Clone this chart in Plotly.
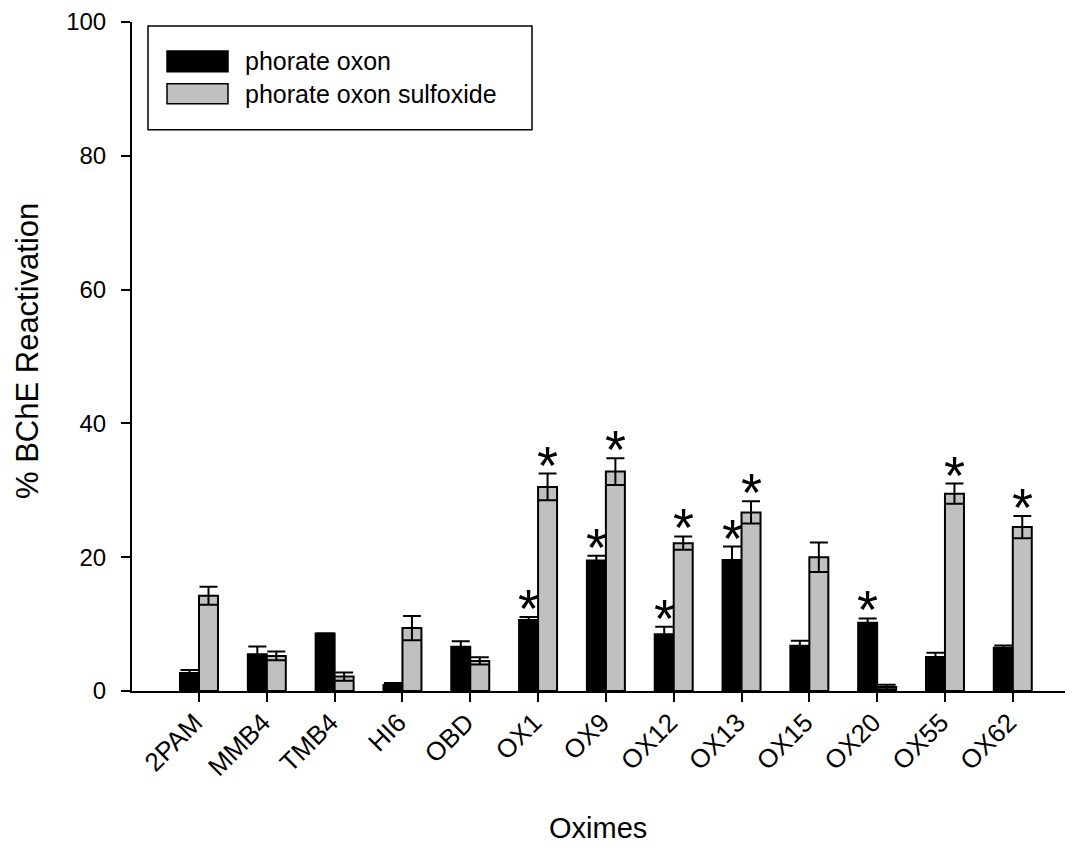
import plotly.graph_objects as go

categories = ["2PAM", "MMB4", "TMB4", "HI6", "OBD", "OX1", "OX9",
              "OX12", "OX13", "OX15", "OX20", "OX55", "OX62"]
oxon = [2.7, 5.5, 8.6, 0.9, 6.6, 10.6, 19.5, 8.5, 19.6, 6.75, 10.2, 5.1, 6.45]
oxon_err = [0.45, 1.15, 0.0, 0.3, 0.85, 0.45, 0.7, 1.1, 2.0, 0.75, 0.65, 0.6, 0.35]
sulfoxide = [14.25, 5.25, 2.15, 9.4, 4.5, 30.5, 32.8, 22.1, 26.7, 20.0, 0.6, 29.5, 24.5]
sulfoxide_err = [1.35, 0.65, 0.6, 1.8, 0.55, 2.0, 2.0, 1.0, 1.65, 2.2, 0.35, 1.5, 1.65]
oxon_sig = ["OX1", "OX9", "OX12", "OX13", "OX20"]
sulfoxide_sig = ["OX1", "OX9", "OX12", "OX13", "OX55", "OX62"]
series_names = ["phorate oxon", "phorate oxon sulfoxide"]
y_ticks = [0, 20, 40, 60, 80, 100]

FONT = "Liberation Sans, Arial, sans-serif"
BLACK = "#000000"
GRAY = "#c0c0c0"

W, H = 1073, 850
L, R, T, B = 132, 8, 20, 159
PW = W - L - R
PH = H - T - B


def px_x(p):
    return (p - L) / PW


def px_y(p):
    return (H - B - p) / PH


fig = go.Figure()
fig.add_trace(go.Bar(
    x=categories, y=oxon, name=series_names[0],
    marker=dict(color=BLACK, line=dict(color=BLACK, width=2)),
    error_y=dict(type="data", array=oxon_err, visible=True,
                 color=BLACK, thickness=2, width=9),
))
fig.add_trace(go.Bar(
    x=categories, y=sulfoxide, name=series_names[1],
    marker=dict(color=GRAY, line=dict(color=BLACK, width=2)),
    error_y=dict(type="data", array=sulfoxide_err, visible=True,
                 color=BLACK, thickness=2, width=9),
))

annotations = []
STAR = dict(family=FONT, size=54, color=BLACK)
for cat, v, e in zip(categories, oxon, oxon_err):
    if cat in oxon_sig:
        annotations.append(dict(x=cat, y=v + e, xref="x", yref="y", text="*",
                                showarrow=False, xshift=-9.5, yshift=9,
                                yanchor="middle", font=STAR))
for cat, v, e in zip(categories, sulfoxide, sulfoxide_err):
    if cat in sulfoxide_sig:
        annotations.append(dict(x=cat, y=v + e, xref="x", yref="y", text="*",
                                showarrow=False, xshift=9.5, yshift=9,
                                yanchor="middle", font=STAR))

# legend text
annotations.append(dict(x=px_x(243), y=px_y(59), xref="paper", yref="paper",
                        text=series_names[0], showarrow=False, xanchor="left",
                        yanchor="middle", font=dict(family=FONT, size=25, color=BLACK)))
annotations.append(dict(x=px_x(243), y=px_y(92), xref="paper", yref="paper",
                        text=series_names[1], showarrow=False, xanchor="left",
                        yanchor="middle", font=dict(family=FONT, size=25, color=BLACK)))
# axis titles
annotations.append(dict(x=px_x(27), y=px_y(350), xref="paper", yref="paper",
                        text="% BChE Reactivation", showarrow=False, textangle=-90,
                        xanchor="center", yanchor="middle",
                        font=dict(family=FONT, size=31, color=BLACK)))
annotations.append(dict(x=px_x(598), y=px_y(828), xref="paper", yref="paper",
                        text="Oximes", showarrow=False,
                        xanchor="center", yanchor="middle",
                        font=dict(family=FONT, size=29, color=BLACK)))

shapes = [
    dict(type="rect", xref="paper", yref="paper",
         x0=px_x(148), x1=px_x(532), y0=px_y(128), y1=px_y(24),
         line=dict(color=BLACK, width=1.5), fillcolor="white", layer="above"),
    dict(type="rect", xref="paper", yref="paper",
         x0=px_x(167), x1=px_x(228), y0=px_y(70), y1=px_y(49),
         line=dict(color=BLACK, width=1.5), fillcolor=BLACK, layer="above"),
    dict(type="rect", xref="paper", yref="paper",
         x0=px_x(167), x1=px_x(228), y0=px_y(102), y1=px_y(82),
         line=dict(color=BLACK, width=1.5), fillcolor=GRAY, layer="above"),
]

fig.update_layout(
    width=W, height=H,
    margin=dict(l=L, r=R, t=T, b=B, pad=0),
    paper_bgcolor="white", plot_bgcolor="white",
    barmode="group", bargap=0.44, bargroupgap=0.0,
    showlegend=False,
    font=dict(family=FONT, color=BLACK),
    annotations=annotations,
    shapes=shapes,
)
fig.update_xaxes(
    type="category", range=[-0.988, 12.77],
    showline=True, linecolor=BLACK, linewidth=2,
    ticks="outside", ticklen=9, tickwidth=1.5, tickcolor=BLACK,
    tickangle=-45, tickfont=dict(family=FONT, size=26, color=BLACK),
    ticklabelstandoff=-5, ticklabelshift=-4,
    showgrid=False, zeroline=False,
)
fig.update_yaxes(
    range=[0, 100], tickvals=y_ticks,
    showline=True, linecolor=BLACK, linewidth=2,
    ticks="outside", ticklen=9, tickwidth=1.5, tickcolor=BLACK,
    ticklabelstandoff=10,
    tickfont=dict(family=FONT, size=24, color=BLACK),
    showgrid=False, zeroline=False,
)

fig.write_html("out.html")
